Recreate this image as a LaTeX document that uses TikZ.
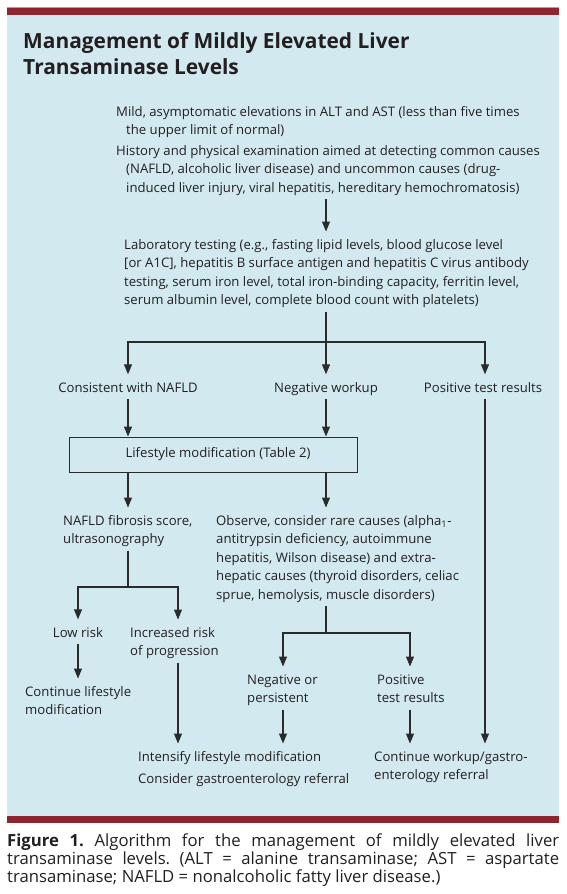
\documentclass[tikz,border=0pt]{standalone}
\usepackage{fontspec}
\setmainfont{Open Sans}
\usetikzlibrary{arrows.meta}
\definecolor{panel}{HTML}{D2E9F0}
\definecolor{barred}{HTML}{8D2430}
\definecolor{ink}{HTML}{231F20}
\definecolor{wire}{HTML}{2B2B2B}
\newcommand\bodysz{\fontsize{13.15}{18.5}\selectfont}
\newcommand\capsz{\fontsize{16.7}{18.2}\selectfont\frenchspacing}
\newcommand\titlesz{\fontsize{20.9}{26.5}\selectfont\bfseries}
\newcommand\fl{\rule{0pt}{11pt}}
\newcommand\dpfix{\rule[-4pt]{0pt}{4pt}}
\begin{document}
\begin{tikzpicture}[x=1pt,y=-1pt,
  txt/.style={font=\bodysz, text=ink, align=left, inner sep=0pt, anchor=north west},
  lbl/.style={font=\bodysz, text=ink, inner sep=0pt, anchor=base},
  arr/.style={draw=wire, line width=1.1pt, -{Triangle[length=10pt,width=8pt]}},
  wireline/.style={draw=wire, line width=1.1pt},
  sa/.style={shorten <=3pt},
  sb/.style={shorten >=6.5pt},
  boxnode/.style={draw=wire, line width=1pt, minimum width=288pt, minimum height=35pt, font=\bodysz, text=ink, inner sep=0pt}]
\useasboundingbox (0,0) rectangle (566,894);
\fill[white] (0,0) rectangle (566,894);
\fill[panel] (7,15) rectangle (559,816);
\fill[barred] (7,7.5) rectangle (559,15);
\draw[black!35, line width=0.6pt] (7,7.3) -- (559,7.3);
\fill[barred] (7,816) rectangle (559,823);

\node[font=\titlesz, text=ink, align=left, inner sep=0pt, anchor=north west] (title) at (23,32)
  {\rule{0pt}{15pt}Management of Mildly Elevated Liver\\Transaminase Levels};

\node[txt] (t1) at (116,105) {\fl Mild, asymptomatic elevations in ALT and AST (less than five times\\\hspace*{10pt}the upper limit of normal)\dpfix};
\node[txt] (t2) at (116,144) {\fl History and physical examination aimed at detecting common causes\\\hspace*{10pt}(NAFLD, alcoholic liver disease) and uncommon causes (drug-\\\hspace*{10pt}induced liver injury, viral hepatitis, hereditary hemochromatosis)\dpfix};
\node[txt] (t3) at (124,238) {\fl Laboratory testing (e.g., fasting lipid levels, blood glucose level\\{}[or A1C], hepatitis B surface antigen and hepatitis C virus antibody\\testing, serum iron level, total iron-binding capacity, ferritin level,\\serum albumin level, complete blood count with platelets)\dpfix};

\node[lbl] (consist) at (128,392) {\fl Consistent with NAFLD\dpfix};
\node[lbl] (negwk) at (326,392) {\fl Negative workup\dpfix};
\node[lbl] (pos) at (483,392) {\fl Positive test results\dpfix};

\node[boxnode] (life) at (213,454.5) {\hspace*{10pt}Lifestyle modification (Table 2)};

\node[txt] (nafs) at (63,514) {\fl NAFLD fibrosis score,\\ultrasonography\dpfix};
\node[txt] (obs) at (216,514) {\fl Observe, consider rare causes (alpha\textsubscript{1}-\\antitrypsin deficiency, autoimmune\\hepatitis, Wilson disease) and extra-\\hepatic causes (thyroid disorders, celiac\\sprue, hemolysis, muscle disorders)\dpfix};

\node[lbl] (low) at (78,637) {\fl Low risk\dpfix};
\node[txt] (inc) at (130,626) {\fl Increased risk\\of progression\dpfix};
\node[txt] (cont) at (25,685) {\fl Continue lifestyle\\modification\dpfix};
\node[txt] (negp) at (247,673) {\fl Negative or\\persistent\dpfix};
\node[txt] (posr) at (377,673) {\fl Positive\\test results\dpfix};
\node[txt] (intens) at (138,750) {\fl Intensify lifestyle modification\\[3.5pt]Consider gastroenterology referral\dpfix};
\node[txt] (contw) at (374,750) {\fl Continue workup/gastro-\\enterology referral\dpfix};

\node[font=\capsz, text=ink, text width=552pt, align=justify, inner sep=0pt, anchor=north west] (cap) at (7,833)
  {\rule{0pt}{13pt}\textbf{Figure 1.} Algorithm for the management of mildly elevated liver\linebreak transaminase levels. (ALT = alanine transaminase; AST = aspartate\linebreak transaminase; NAFLD = nonalcoholic fatty liver disease.)};

\coordinate (c1) at (128,0);
\coordinate (c2) at (326,0);
\coordinate (c3) at (485,0);
\coordinate (c4) at (78,0);
\coordinate (c5) at (178,0);
\coordinate (c6) at (283,0);
\coordinate (c7) at (410,0);
\coordinate (j1) at (326,342);
\coordinate (j2) at (128,587);
\coordinate (j3) at (326,633);

\draw[arr,sa,sb] (t2.south -| c2) -- (t3.north -| c2);
\draw[arr,sa,sb] (t3.south -| c2) -- (negwk.north -| c2);
\draw[arr,sb] (j1) -| (consist.north -| c1);
\draw[arr,sb] (j1) -| (pos.north -| c3);
\draw[arr,sa] (consist.south -| c1) -- (life.north -| c1);
\draw[arr,sa] (negwk.south -| c2) -- (life.north -| c2);
\draw[arr,sb] (life.south -| c1) -- (nafs.north -| c1);
\draw[arr,sb] (life.south -| c2) -- (obs.north -| c2);
\draw[wireline,sa] (nafs.south -| c1) -- (j2);
\draw[arr,sb] (j2) -| (low.north -| c4);
\draw[arr,sb] (j2) -| (inc.north -| c5);
\draw[arr,sa,sb] (low.south -| c4) -- (cont.north -| c4);
\draw[arr,sa,sb] (inc.south -| c5) -- (intens.north -| c5);
\draw[wireline,sa] (obs.south -| c2) -- (j3);
\draw[arr,sb] (j3) -| (negp.north -| c6);
\draw[arr,sb] (j3) -| (posr.north -| c7);
\draw[arr,sa,sb] (negp.south -| c6) -- (intens.north -| c6);
\draw[arr,sa,sb] (posr.south -| c7) -- (contw.north -| c7);
\draw[arr,sa,sb] (pos.south -| c3) -- (contw.north -| c3);
\end{tikzpicture}
\end{document}
